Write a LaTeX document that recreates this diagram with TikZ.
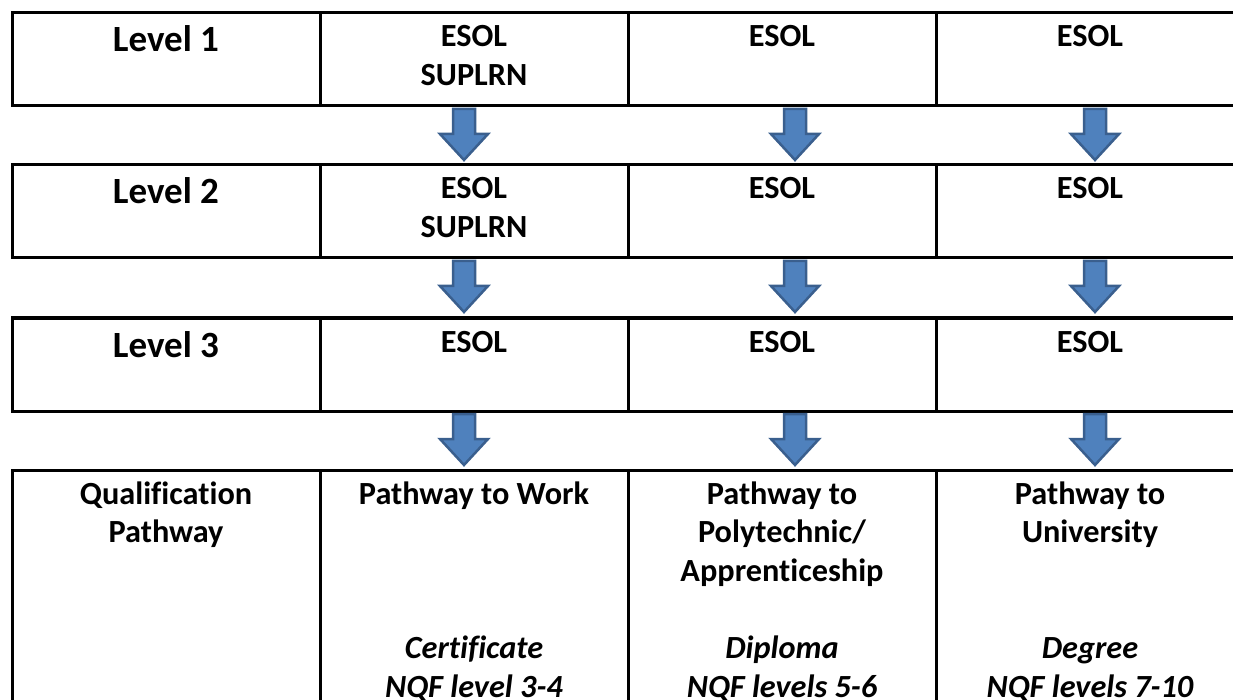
\documentclass[tikz,border=0pt]{standalone}
\usepackage{fontspec}
\setmainfont{Carlito}[Ligatures=NoCommon]
\definecolor{arrowfill}{HTML}{4F81BD}
\definecolor{arrowedge}{HTML}{3A5F8E}

\begin{document}
\begin{tikzpicture}[x=1pt,y=-1pt,
    cell/.style={draw,line width=3pt},
    lvl/.style={font=\fontsize{37}{44}\bfseries,anchor=base,inner sep=0pt},
    txt/.style={font=\fontsize{32.3}{38.5}\bfseries,align=center,anchor=base,inner sep=0pt},
    qual/.style={font=\fontsize{32.3}{38.5}\bfseries\itshape,align=center,anchor=base,inner sep=0pt},
    down/.style={fill=arrowfill,draw=arrowedge,line width=2.5pt}]

    \useasboundingbox (0,0) rectangle (1233,700);

    % the three level rows
    \foreach \top in {13,165,318} {
      \draw[cell] (12,\top) rectangle (1244,\top+93);
      \foreach \x in {320,628,936}
        \draw[cell] (\x,\top) -- (\x,\top+93);
    }
    % qualification row, runs off the page
    \draw[cell] (12,740) |- (1244,470) -- (1244,740);
    \foreach \x in {320,628,936}
      \draw[cell] (\x,470) -- (\x,740);

    % base anchor sits on the last line
    \node[lvl] (lvl1) at (166,52) {Level 1};
    \node[txt] (esol12) at (474,85.5) {ESOL\\SUPLRN};
    \node[txt] (esol13) at (782,47) {ESOL};
    \node[txt] (esol14) at (1090,47) {ESOL};

    \node[lvl] (lvl2) at (166,204) {Level 2};
    \node[txt] (esol22) at (474,237.5) {ESOL\\SUPLRN};
    \node[txt] (esol23) at (782,199) {ESOL};
    \node[txt] (esol24) at (1090,199) {ESOL};

    \node[lvl] (lvl3) at (166,357) {Level 3};
    \node[txt] (esol32) at (474,352) {ESOL};
    \node[txt] (esol33) at (782,352) {ESOL};
    \node[txt] (esol34) at (1090,352) {ESOL};

    \node[txt] (qual) at (166,542.5) {Qualification\\Pathway};
    \node[txt] (work) at (474,504) {Pathway to Work};
    \node[txt] (poly) at (782,581) {Pathway to\\Polytechnic/\\Apprenticeship};
    \node[txt] (uni) at (1090,542.5) {Pathway to\\University};
    \node[qual] (cert) at (474,697) {Certificate\\NQF level 3-4};
    \node[qual] (dipl) at (782,697) {Diploma\\NQF levels 5-6};
    \node[qual] (degr) at (1090,697) {Degree\\NQF levels 7-10};

    % block arrows between the rows
    \foreach \cx in {464,795,1095}
      \foreach \b in {106,258,411}
        \draw[down] (\cx-11,\b+3) -- (\cx+11,\b+3) -- (\cx+11,\b+28) -- (\cx+24,\b+28)
          -- (\cx,\b+54) -- (\cx-24,\b+28) -- (\cx-11,\b+28) -- cycle;

  \end{tikzpicture}
\end{document}
